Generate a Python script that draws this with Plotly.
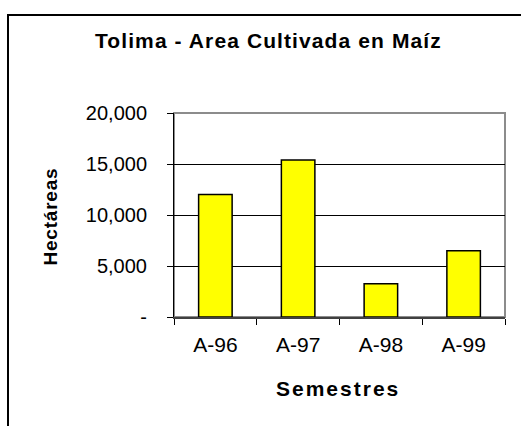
import plotly.graph_objects as go

categories = ["A-96", "A-97", "A-98", "A-99"]
hectareas = [12000, 15400, 3250, 6500]
y_tick_vals = [0, 5000, 10000, 15000, 20000]
y_tick_text = ["-", "5,000", "10,000", "15,000", "20,000"]

W, H = 521, 426
ML, MR, MT, MB = 174, 16, 113, 109
PW, PH = W - ML - MR, H - MT - MB


def px_x(px):
    return (px - ML) / PW


def px_y(py):
    return (H - MB - py) / PH


FONT = "Liberation Sans, Arial, sans-serif"

fig = go.Figure(
    go.Bar(
        x=categories,
        y=hectareas,
        marker=dict(color="#FFFF00", line=dict(color="#000000", width=1.5)),
        width=0.405,
    )
)

fig.update_layout(
    width=W,
    height=H,
    margin=dict(l=ML, r=MR, t=MT, b=MB),
    paper_bgcolor="white",
    plot_bgcolor="white",
    showlegend=False,
    font=dict(family=FONT, color="black"),
    xaxis=dict(
        showline=True,
        linecolor="#404040",
        linewidth=2,
        ticks="outside",
        tickson="boundaries",
        ticklen=6,
        tickcolor="#000000",
        tickwidth=1,
        tickfont=dict(size=21, family=FONT, color="black"),
        ticklabelstandoff=8,
        showgrid=False,
        zeroline=False,
    ),
    yaxis=dict(
        range=[0, 20000],
        tickvals=y_tick_vals,
        ticktext=y_tick_text,
        showline=True,
        linecolor="#000000",
        linewidth=1,
        ticks="outside",
        ticklen=6,
        tickcolor="#000000",
        tickfont=dict(size=20, family=FONT, color="black"),
        ticklabelstandoff=16,
        showgrid=True,
        gridcolor="#000000",
        gridwidth=1,
        zeroline=False,
    ),
    shapes=[
        dict(type="rect", xref="paper", yref="paper", x0=0, y0=0, x1=1, y1=1,
             line=dict(color="#8c8c8c", width=2), layer="below"),
        dict(type="rect", xref="paper", yref="paper",
             x0=px_x(8), y0=px_y(15), x1=px_x(560), y1=px_y(460),
             line=dict(color="#000000", width=2)),
    ],
    annotations=[
        dict(text="<b>Tolima - Area Cultivada en Maíz</b>", xref="paper", yref="paper",
             x=px_x(268), y=px_y(41), xanchor="center", yanchor="middle",
             showarrow=False, font=dict(size=21, family=FONT, color="black")),
        dict(text="<b>Semestres</b>", xref="paper", yref="paper",
             x=px_x(338), y=px_y(388), xanchor="center", yanchor="middle",
             showarrow=False, font=dict(size=21, family=FONT, color="black")),
        dict(text="<b>Hectáreas</b>", xref="paper", yref="paper",
             x=px_x(50), y=px_y(217), xanchor="center", yanchor="middle",
             textangle=-90, showarrow=False,
             font=dict(size=19, family=FONT, color="black")),
    ],
)

post = """
document.body.style.margin='0';
var sp=['1.1px','2px','0.8px'];
document.querySelectorAll('g.annotation text.annotation-text').forEach(function(t,i){
  if(i<sp.length){ t.style.letterSpacing=sp[i]; }
});
"""

fig.write_html("out.html", post_script=post, config={"displayModeBar": False})
